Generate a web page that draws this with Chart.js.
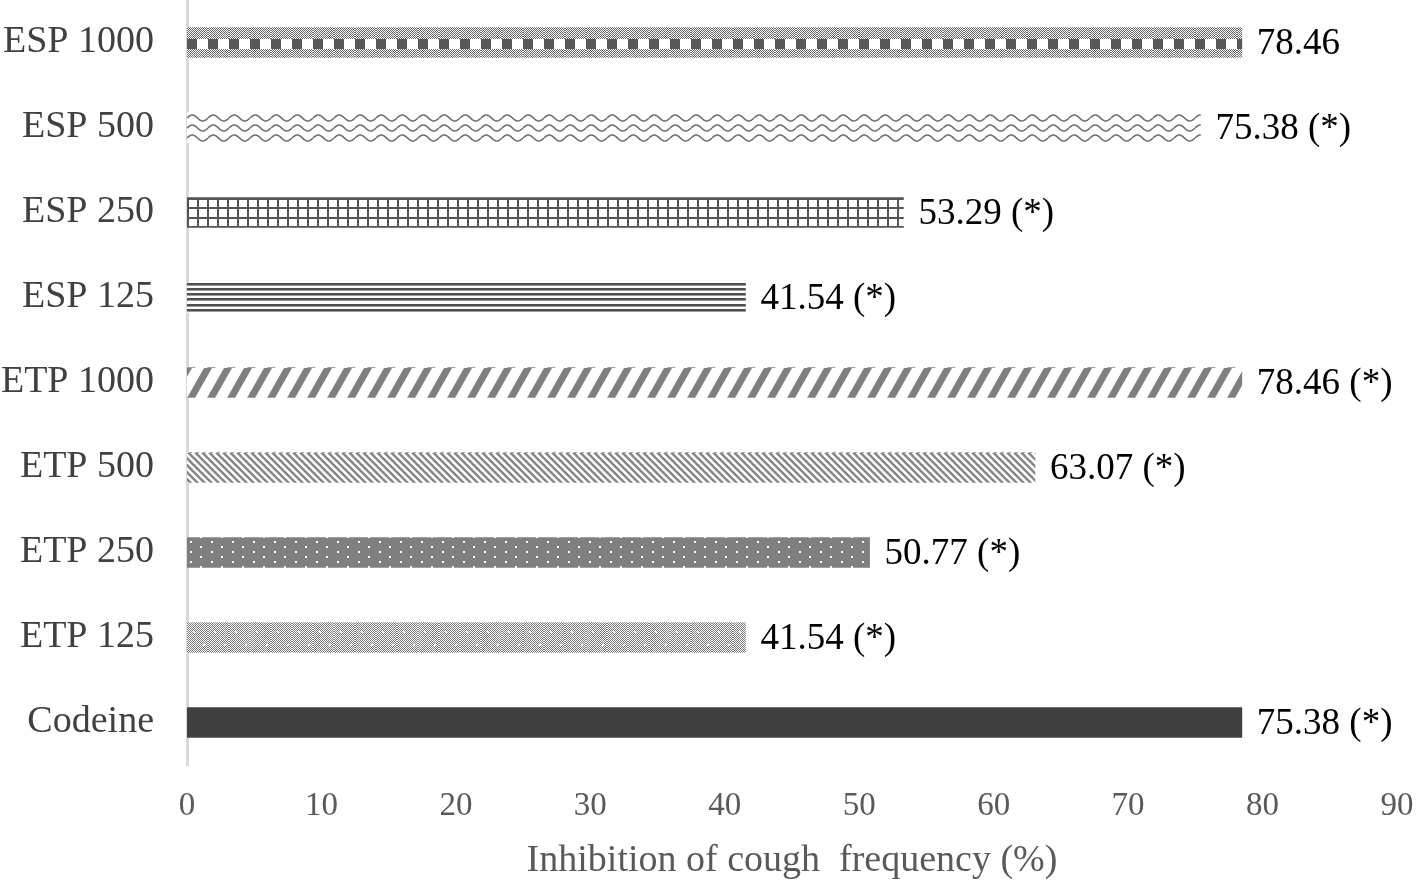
<!DOCTYPE html>
<html>
<head>
<meta charset="utf-8">
<script src="https://cdn.jsdelivr.net/npm/chart.js@4.4.1/dist/chart.umd.min.js"></script>
<style>
	html, body { margin: 0; padding: 0; background: #fff; }
	#wrap { width: 1418px; height: 885px; }
</style>
</head>
<body>
<div id="wrap"><canvas id="cough-chart" width="1418" height="885"></canvas></div>
<script>
// Data (top bar first)
var categories = ["ESP 1000", "ESP 500", "ESP 250", "ESP 125", "ETP 1000", "ETP 500", "ETP 250", "ETP 125", "Codeine"];
var inhibition = [78.46, 75.38, 53.29, 41.54, 78.46, 63.07, 50.77, 41.54, 78.46];
var value_labels = ["78.46", "75.38 (*)", "53.29 (*)", "41.54 (*)", "78.46 (*)", "63.07 (*)", "50.77 (*)", "41.54 (*)", "75.38 (*)"];
var x_ticks = [0, 10, 20, 30, 40, 50, 60, 70, 80, 90];
var axis_title = "Inhibition of cough  frequency (%)";

var BAR_H = 30;
var serif = '"Liberation Serif", "Times New Roman", serif';

// Builds a small tile canvas for the fill of one bar
function makeTile(w, draw) {
	var c = document.createElement("canvas");
	c.width = w;
	c.height = BAR_H;
	var t = c.getContext("2d");
	t.fillStyle = "#fff";
	t.fillRect(0, 0, w, BAR_H);
	draw(t, w);
	return c;
}

function checker(t, w, y0, y1, color) {
	t.fillStyle = color;
	for (var y = y0; y < y1; y++) {
		for (var x = 0; x < w; x++) {
			if ((x + y) % 2 === 0) t.fillRect(x, y, 1, 1);
		}
	}
}

function stripe(t, x, dx, thick, color) {
	t.fillStyle = color;
	t.beginPath();
	t.moveTo(x, BAR_H);
	t.lineTo(x + thick, BAR_H);
	t.lineTo(x + thick + dx, 0);
	t.lineTo(x + dx, 0);
	t.closePath();
	t.fill();
}

var tiles = [
	// ESP 1000 - checker bands with dark blocks
	makeTile(21, function(t, w) {
		checker(t, w, 0, 11, "#666");
		checker(t, w, 21, 30, "#666");
		t.fillStyle = "#585858";
		t.fillRect(0, 11, 10, 10);
	}),
	// ESP 500 - three waves
	makeTile(21, function(t, w) {
		t.strokeStyle = "#6f6f6f";
		t.lineWidth = 1.6;
		[5, 15, 25].forEach(function(yc) {
			t.beginPath();
			for (var x = 0; x <= w; x += 0.5) {
				var y = yc - 3 * Math.sin(2 * Math.PI * x / w);
				if (x === 0) t.moveTo(x, y); else t.lineTo(x, y);
			}
			t.stroke();
		});
	}),
	// ESP 250 - grid
	makeTile(10, function(t, w) {
		t.fillStyle = "#555";
		t.fillRect(0, 0, 2, BAR_H);
		[0, 9, 19, 28].forEach(function(y) { t.fillRect(0, y, w, 2); });
	}),
	// ESP 125 - horizontal lines
	makeTile(4, function(t, w) {
		[0, 5, 10, 15, 21, 26].forEach(function(y) {
			t.fillStyle = "#505050";
			t.fillRect(0, y, w, 2);
			t.fillStyle = "#9a9a9a";
			t.fillRect(0, y + 2, w, 1);
		});
	}),
	// ETP 1000 - wide upward diagonal
	makeTile(20, function(t, w) {
		for (var k = -2; k <= 1; k++) stripe(t, k * w, 17, 8, "#7f7f7f");
	}),
	// ETP 500 - narrow downward diagonal
	makeTile(7, function(t, w) {
		t.save();
		t.translate(0, BAR_H);
		t.scale(1, -1);
		for (var k = -6; k <= 1; k++) stripe(t, k * w, 30, 3.5, "#858585");
		t.restore();
	}),
	// ETP 250 - grey with white dots
	makeTile(21, function(t, w) {
		t.fillStyle = "#7f7f7f";
		t.fillRect(0, 0, w, BAR_H);
		t.fillStyle = "#fff";
		[3, 8, 13, 18, 23, 28].forEach(function(y, i) {
			t.fillRect(i % 2 === 0 ? 3 : 13, y, 2, 2);
		});
	}),
	// ETP 125 - fine checker with light spots
	makeTile(21, function(t, w) {
		checker(t, w, 0, BAR_H, "#7a7a7a");
		t.fillStyle = "#fff";
		t.fillRect(6, 8, 2, 2);
		t.fillRect(16, 21, 2, 2);
	}),
	null
];

var solid_color = "#404040";

// Pattern for each bar, lined up with the bar's top edge
function barFill(context) {
	var i = context.dataIndex;
	var chart = context.chart;
	if (!tiles[i] || !chart.chartArea) return solid_color;
	var p = chart.ctx.createPattern(tiles[i], "repeat");
	var top = Math.round(chart.scales.y.getPixelForValue(i) - BAR_H / 2);
	p.setTransform(new DOMMatrix().translate(Math.round(chart.chartArea.left), top));
	return p;
}

// Value labels at the end of each bar
var labelPlugin = {
	id: "valueLabels",
	afterDatasetsDraw: function(chart) {
		var ctx = chart.ctx;
		var meta = chart.getDatasetMeta(0);
		ctx.save();
		ctx.font = "37px " + serif;
		ctx.fillStyle = "#000";
		ctx.textAlign = "left";
		ctx.textBaseline = "middle";
		meta.data.forEach(function(bar, i) {
			ctx.fillText(value_labels[i], bar.x + 15, bar.y + 2);
		});
		ctx.restore();
	}
};

var chart_ctx = document.getElementById("cough-chart");
var cough_chart = new Chart(chart_ctx, {
	type: "bar",
	data: {
		labels: categories,
		datasets: [{
			data: inhibition,
			backgroundColor: barFill,
			borderWidth: 0,
			barThickness: BAR_H
		}]
	},
	options: {
		indexAxis: "y",
		responsive: false,
		animation: false,
		layout: { padding: { top: 0, right: 21, bottom: 0, left: 0 } },
		plugins: {
			legend: { display: false },
			tooltip: { enabled: false }
		},
		scales: {
			x: {
				min: 0,
				max: 90,
				afterBuildTicks: function(scale) {
					scale.ticks = x_ticks.map(function(v) { return { value: v }; });
				},
				grid: { display: false, drawTicks: false },
				border: { display: false },
				ticks: {
					color: "#595959",
					font: { family: serif, size: 33 },
					padding: 22,
					maxRotation: 0
				},
				title: {
					display: true,
					text: axis_title,
					color: "#595959",
					font: { family: serif, size: 38 },
					padding: { top: 0, bottom: 1 }
				},
				afterFit: function(scale) {
					scale.height = 120;
					scale.paddingLeft = 0;
					scale.paddingRight = 0;
				}
			},
			y: {
				grid: { display: false, drawTicks: false },
				border: { display: true, color: "#d9d9d9", width: 3 },
				ticks: {
					color: "#404040",
					font: { family: serif, size: 38 },
					padding: 33
				},
				afterFit: function(scale) {
					scale.width = 187;
					scale.paddingTop = 0;
					scale.paddingBottom = 0;
				}
			}
		}
	},
	plugins: [labelPlugin]
});
</script>
</body>
</html>
